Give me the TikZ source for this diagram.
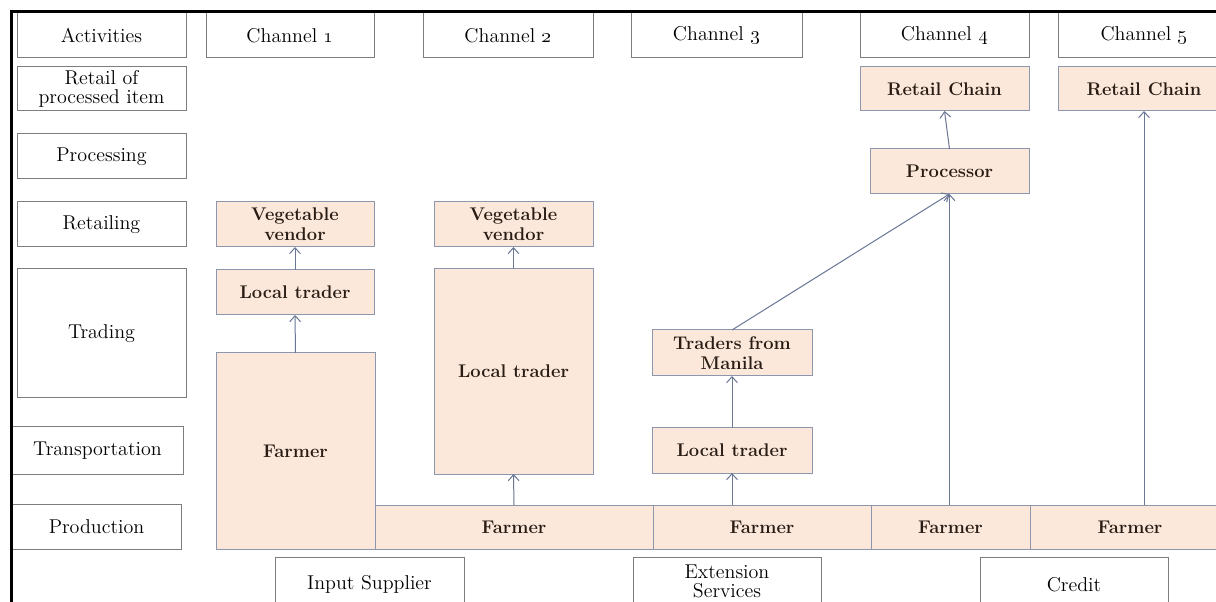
\documentclass[tikz,border=0pt]{standalone}
\usetikzlibrary{arrows.meta}
\definecolor{peach}{RGB}{252,232,218}
\definecolor{peachline}{RGB}{140,150,172}
\definecolor{boxline}{RGB}{125,125,125}
\definecolor{flow}{RGB}{105,118,148}
\definecolor{ink}{RGB}{40,28,20}
% a box given by its top-left and bottom-right corners (in px)
\newcommand\cellbox[7]{\node[#1, minimum width={(#5-#3)*0.6pt}, minimum height={(#6-#4)*0.6pt}] (#2) at (#3,#4) {#7};}
\newcommand\chan[1]{Channel \oldstylenums{#1}}
\begin{document}
\begin{tikzpicture}[x=0.6pt,y=-0.6pt,
  base/.style={anchor=north west, inner sep=0pt, outer sep=0pt, align=center, line width=0.6pt},
  wbox/.style={base, draw=boxline, fill=white, font=\fontsize{12}{11.5}\selectfont},
  pbox/.style={base, draw=peachline, fill=peach, text=ink, font=\fontsize{11}{12}\selectfont\bfseries},
  flowline/.style={draw=flow, line width=0.6pt, -{Straight Barb[length=3.6pt,width=6.5pt]}},
  frameline/.style={line width=1.8pt, black}]
\clip (0,0) rectangle (1216,602);
\fill[white] (0,0) rectangle (1216,602);

% activity column
\cellbox{wbox}{act}{17}{13}{186}{58}{Activities}
\cellbox{wbox}{rpi}{17}{67}{186}{111}{Retail of\\processed item}
\cellbox{wbox}{proc}{17}{134}{186}{179}{Processing}
\cellbox{wbox}{ret}{17}{202}{186}{247}{Retailing}
\cellbox{wbox}{trad}{17}{269}{186}{398}{Trading}
\cellbox{wbox}{trans}{12}{427}{183}{474}{Transportation}
\cellbox{wbox}{prod}{12}{504}{181}{549}{Production}

% channel headers
\cellbox{wbox}{ch1}{206}{13}{374}{58}{\chan{1}}
\cellbox{wbox}{ch2}{423}{13}{593}{58}{\chan{2}}
\cellbox{wbox}{ch3}{631}{13}{802}{58}{\chan{3}}
\cellbox{wbox}{ch4}{860}{13}{1029}{58}{\chan{4}}
\cellbox{wbox}{ch5}{1058}{13}{1230}{58}{\chan{5}}

% actors
\cellbox{pbox}{rc4}{860}{67}{1029}{111}{Retail Chain}
\cellbox{pbox}{rc5}{1058}{67}{1230}{111}{Retail Chain}
\cellbox{pbox}{pr}{870}{149}{1029}{194}{Processor}
\cellbox{pbox}{vv1}{216}{202}{374}{247}{Vegetable\\vendor}
\cellbox{pbox}{vv2}{434}{202}{593}{247}{Vegetable\\vendor}
\cellbox{pbox}{lt1}{216}{270}{374}{315}{Local trader}
\cellbox{pbox}{fa1}{216}{353}{375}{549}{Farmer}
\cellbox{pbox}{lt2}{434}{269}{593}{474}{Local trader}
\cellbox{pbox}{tm}{652}{330}{812}{376}{Traders from\\Manila}
\cellbox{pbox}{lt3}{652}{428}{812}{473}{Local trader}
\cellbox{pbox}{fa2}{375}{505}{653}{549}{Farmer}
\cellbox{pbox}{fa3}{653}{505}{871}{549}{Farmer}
\cellbox{pbox}{fa4}{871}{505}{1030}{549}{Farmer}
\cellbox{pbox}{fa5}{1030}{505}{1230}{549}{Farmer}

% support services
\cellbox{wbox}{inp}{275}{557}{464}{612}{Input Supplier}
\cellbox{wbox}{ext}{633}{557}{821}{606}{Extension\\Services}
\cellbox{wbox}{cred}{980}{557}{1168}{612}{Credit}

% flows
\draw[flowline] (fa1.north) -- (lt1.south);
\draw[flowline] (lt1.north) -- (vv1.south);
\draw[flowline] (fa2.north) -- (lt2.south);
\draw[flowline] (lt2.north) -- (vv2.south);
\draw[flowline] (lt3.south |- fa3.north) -- (lt3.south);
\draw[flowline] (lt3.north) -- (tm.south);
\draw[flowline] (tm.north) -- (pr.south);
\draw[flowline] (pr.south |- fa4.north) -- (pr.south);
\draw[flowline] (pr.north) -- (rc4.south);
\draw[flowline] (rc5.south |- fa5.north) -- (rc5.south);

% frame
\draw[frameline] (1216,12) -- (11,12) -- (11,602);
\end{tikzpicture}
\end{document}
